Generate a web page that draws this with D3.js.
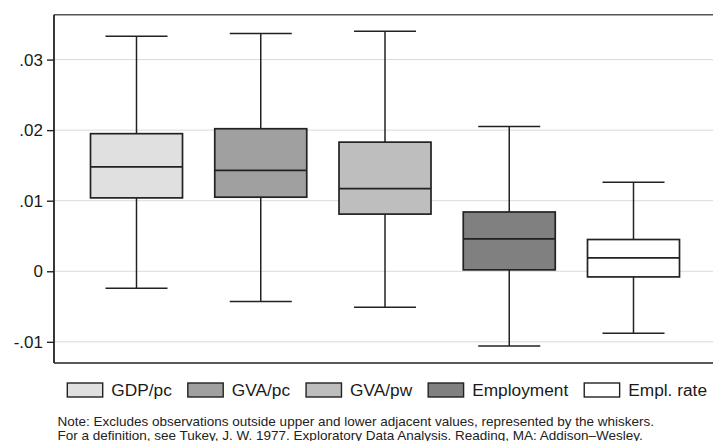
<!DOCTYPE html>
<html>
<head>
<meta charset="utf-8">
<script src="https://cdn.jsdelivr.net/npm/d3@7"></script>
<style>
  html, body { margin: 0; padding: 0; background: #fff; }
  svg { display: block; font-family: "Liberation Sans", Arial, sans-serif; }
</style>
</head>
<body>
<svg id="chart" width="713" height="441"></svg>
<script>
// Series shown as boxes (adjacent values, quartiles, median)
const categories = ["GDP/pc", "GVA/pc", "GVA/pw", "Employment", "Empl. rate"];
const fills      = ["#e0e0e0", "#a0a0a0", "#bebebe", "#808080", "#ffffff"];
const upperAdj   = [0.0333, 0.0337, 0.0340, 0.0205, 0.0126];
const q3         = [0.0195, 0.0202, 0.0183, 0.0084, 0.0045];
const median     = [0.0148, 0.0143, 0.0117, 0.0046, 0.0019];
const q1         = [0.0104, 0.0105, 0.0081, 0.0002, -0.0008];
const lowerAdj   = [-0.0024, -0.0043, -0.0051, -0.0106, -0.0088];
const yTicks     = [-0.01, 0, 0.01, 0.02, 0.03];
const yTickLabels = ["-.01", "0", ".01", ".02", ".03"];
const noteLines = [
  "Note: Excludes observations outside upper and lower adjacent values, represented by the whiskers.",
  "For a definition, see Tukey, J. W. 1977. Exploratory Data Analysis. Reading, MA: Addison\u2013Wesley."
];

const svg = d3.select("#chart");
const plot = { left: 54, top: 14.7, right: 716, bottom: 363 };

const y = d3.scaleLinear().domain([-0.0130, 0.03636]).range([plot.bottom, plot.top]);
const x = d3.scalePoint().domain(categories).range([136.5, 633.5]);
const boxW = 92, capW = 62;
const ink = "#222";

// grid lines
svg.append("g").selectAll("line").data(yTicks).join("line")
  .attr("x1", plot.left).attr("x2", plot.right)
  .attr("y1", d => y(d)).attr("y2", d => y(d))
  .attr("stroke", "#dadada").attr("stroke-width", 1);

// plot frame (top and bottom edges)
svg.append("line").attr("x1", plot.left).attr("x2", plot.right)
  .attr("y1", plot.top).attr("y2", plot.top)
  .attr("stroke", "#555").attr("stroke-width", 1.6);
svg.append("line").attr("x1", plot.left).attr("x2", plot.right)
  .attr("y1", plot.bottom).attr("y2", plot.bottom)
  .attr("stroke", "#222").attr("stroke-width", 1.6);

// y axis
const yAxis = d3.axisLeft(y).tickValues(yTicks)
  .tickFormat((d, i) => yTickLabels[i]).tickSize(7).tickPadding(4).tickSizeOuter(0);
const gy = svg.append("g").attr("transform", `translate(${plot.left},0)`).call(yAxis);
gy.select(".domain").attr("stroke", ink).attr("stroke-width", 1.8)
  .attr("d", `M0,${plot.top}V${plot.bottom}`);
gy.selectAll(".tick line").attr("stroke", ink).attr("stroke-width", 1.4);
gy.selectAll(".tick text").attr("fill", "#1a1a1a")
  .style("font-size", "17px").style("font-family", "'Liberation Sans', Arial, sans-serif");

// boxes
const rows = categories.map((c, i) => ({
  c, fill: fills[i], hi: upperAdj[i], q3: q3[i], med: median[i], q1: q1[i], lo: lowerAdj[i]
}));
const g = svg.append("g").selectAll("g").data(rows).join("g");

g.append("line").attr("x1", d => x(d.c)).attr("x2", d => x(d.c))
  .attr("y1", d => y(d.hi)).attr("y2", d => y(d.q3))
  .attr("stroke", ink).attr("stroke-width", 1.5);
g.append("line").attr("x1", d => x(d.c)).attr("x2", d => x(d.c))
  .attr("y1", d => y(d.q1)).attr("y2", d => y(d.lo))
  .attr("stroke", ink).attr("stroke-width", 1.5);
g.append("line").attr("x1", d => x(d.c) - capW / 2).attr("x2", d => x(d.c) + capW / 2)
  .attr("y1", d => y(d.hi)).attr("y2", d => y(d.hi))
  .attr("stroke", ink).attr("stroke-width", 1.5);
g.append("line").attr("x1", d => x(d.c) - capW / 2).attr("x2", d => x(d.c) + capW / 2)
  .attr("y1", d => y(d.lo)).attr("y2", d => y(d.lo))
  .attr("stroke", ink).attr("stroke-width", 1.5);
g.append("rect")
  .attr("x", d => x(d.c) - boxW / 2).attr("width", boxW)
  .attr("y", d => y(d.q3)).attr("height", d => y(d.q1) - y(d.q3))
  .attr("fill", d => d.fill).attr("stroke", ink).attr("stroke-width", 1.7);
g.append("line").attr("x1", d => x(d.c) - boxW / 2).attr("x2", d => x(d.c) + boxW / 2)
  .attr("y1", d => y(d.med)).attr("y2", d => y(d.med))
  .attr("stroke", ink).attr("stroke-width", 1.7);

// legend: swatch, label, then the next entry
const legend = svg.append("g");
let lx = 67.3;
rows.forEach(d => {
  legend.append("rect").attr("x", lx).attr("y", 383).attr("width", 35.4).attr("height", 14)
    .attr("fill", d.fill).attr("stroke", ink).attr("stroke-width", 1.4);
  const t = legend.append("text").attr("x", lx + 44).attr("y", 396)
    .attr("fill", "#1a1a1a").style("font-size", "17.3px").text(d.c);
  lx += 44 + t.node().getComputedTextLength() + 16;
});

// note, sized so the first line spans the plot width below the legend
const note = svg.append("g").selectAll("text").data(noteLines).join("text")
  .attr("x", 57.5).attr("y", (d, i) => 426.3 + i * 13.4)
  .attr("fill", "#222").style("font-size", "12px")
  .text(d => d);
const w0 = note.nodes()[0].getComputedTextLength();
note.style("font-size", (12 * 597 / w0) + "px");
</script>
</body>
</html>
